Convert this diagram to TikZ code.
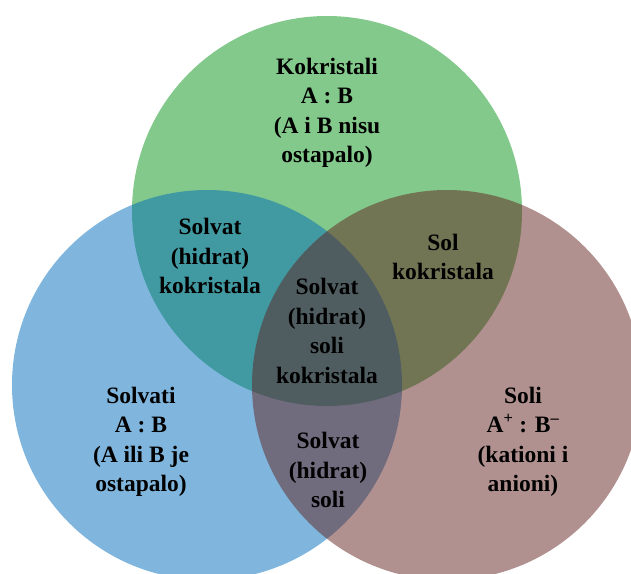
\documentclass[tikz,border=0pt]{standalone}
\usepackage{fontspec}
\setmainfont{Liberation Serif}
\definecolor{greenC}{RGB}{7,147,23}
\definecolor{blueC}{RGB}{1,109,187}
\definecolor{brownC}{RGB}{97,35,31}
\newcommand{\ion}[1]{\textsuperscript{#1}}

\begin{document}
\begin{tikzpicture}[x=1pt, y=-1pt,
    lbl/.style={align=center, inner sep=0pt,
      font=\fontsize{23.5}{29.5}\selectfont\bfseries}]

    \useasboundingbox (0,0) rectangle (631,573);
    \clip (0,0) rectangle (631,573);

    % the three sets
    \coordinate (cKokr) at (327,211);
    \coordinate (cSolv) at (207,385);
    \coordinate (cSoli) at (447,385);
    \foreach \c/\col in {cKokr/greenC, cSolv/blueC, cSoli/brownC}
      \fill[\col, fill opacity=0.5] (\c) circle (195);

    % labels
    \node[lbl] (kokristali) at (327,113) {Kokristali\\A : B\\(A i B nisu\\ostapalo)};
    \node[lbl] (solvatKokr) at (210,256) {Solvat\\(hidrat)\\kokristala};
    \node[lbl] (solKokr) at (443,257) {Sol\\kokristala};
    \node[lbl] (centar) at (327,331) {Solvat\\(hidrat)\\soli\\kokristala};
    \node[lbl] (solvati) at (141,442) {Solvati\\A : B\\(A ili B je\\ostapalo)};
    \node[lbl] (solvatSoli) at (328,470) {Solvat\\(hidrat)\\soli};
    \node[lbl] (soli) at (523,442) {Soli\\A\ion{+} : B\ion{–}\\(kationi i\\anioni)};

  \end{tikzpicture}
\end{document}
